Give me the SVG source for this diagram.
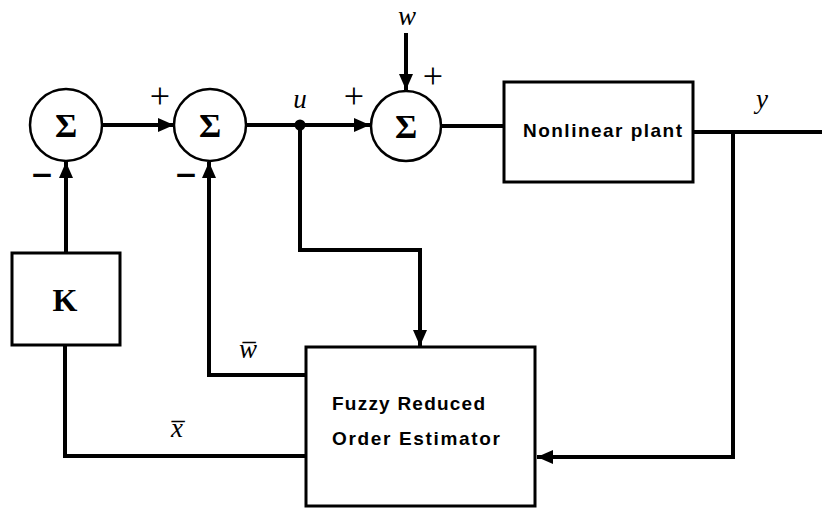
<svg xmlns="http://www.w3.org/2000/svg" width="822" height="508" viewBox="0 0 822 508">
<style>
.blk{fill:#fff;stroke:#000;stroke-width:3}
.sum{fill:#fff;stroke:#000;stroke-width:2.5}
.wire{fill:none;stroke:#000;stroke-width:4;stroke-linejoin:miter}
text{fill:#000}
.sig{font-family:"Liberation Serif","DejaVu Serif",serif;font-size:34px;font-weight:bold;text-anchor:middle}
.var{font-family:"Liberation Serif","DejaVu Serif",serif;font-size:27px;font-style:italic;text-anchor:middle}
.pls{font-family:"Liberation Serif","DejaVu Serif",serif;font-size:36px;text-anchor:middle}
.mns{font-family:"DejaVu Sans","Liberation Sans",sans-serif;font-size:28px;font-weight:bold;text-anchor:middle}
.lbl{font-family:"Liberation Sans",Arial,sans-serif;font-size:19px;font-weight:bold}
</style>
<defs>
<marker id="arr" markerUnits="userSpaceOnUse" markerWidth="16" markerHeight="14" viewBox="0 0 16 14" refX="16" refY="7" orient="auto">
<path d="M0,0 L16,7 L0,14 z" fill="#000"/>
</marker>
</defs>
<rect width="822" height="508" fill="#fff"/>
<g id="connectors">
<line class="wire" x1="102" y1="125" x2="174" y2="125" marker-end="url(#arr)"/>
<line class="wire" x1="246" y1="125" x2="370" y2="125" marker-end="url(#arr)"/>
<line class="wire" x1="406" y1="33" x2="406" y2="90" marker-end="url(#arr)"/>
<line class="wire" x1="441" y1="126" x2="504" y2="126"/>
<line class="wire" x1="693" y1="132" x2="822" y2="132"/>
<polyline class="wire" points="733,132 733,457 537,457" marker-end="url(#arr)"/>
<polyline class="wire" points="300,125 300,250 420,250 420,346" marker-end="url(#arr)"/>
<polyline class="wire" points="306,375 209,375 209,162" marker-end="url(#arr)"/>
<polyline class="wire" points="306,456 65,456 65,346"/>
<line class="wire" x1="66" y1="253" x2="66" y2="162" marker-end="url(#arr)"/>
<circle cx="300" cy="125" r="5.5" fill="#000"/>
<text class="var" x="300" y="108">u</text>
<text class="var" x="407" y="25">w</text>
<text class="var" x="762" y="108">y</text>
<text class="var" x="248" y="358">w&#x0305;</text>
<text class="var" x="177" y="437">x&#x0305;</text>
</g>
<g id="sum1">
<circle class="sum" cx="66" cy="125" r="36"/>
<text class="sig" x="66" y="137">Σ</text>
<text class="mns" x="42" y="184">−</text>
</g>
<g id="sum2">
<circle class="sum" cx="210" cy="125" r="36"/>
<text class="sig" x="210" y="137">Σ</text>
<text class="pls" x="160" y="108">+</text>
<text class="mns" x="186" y="184">−</text>
</g>
<g id="sum3">
<circle class="sum" cx="406" cy="126" r="35"/>
<text class="sig" x="406" y="138">Σ</text>
<text class="pls" x="354" y="108">+</text>
<text class="pls" x="433" y="88">+</text>
</g>
<g id="plant">
<rect class="blk" x="504" y="82" width="189" height="100"/>
<text class="lbl" x="523" y="137" textLength="159" lengthAdjust="spacing">Nonlinear plant</text>
</g>
<g id="gainK">
<rect class="blk" x="12" y="253" width="108" height="92"/>
<text x="65" y="311" text-anchor="middle" font-family="Liberation Serif,serif" font-size="32" font-weight="bold">K</text>
</g>
<g id="estimator">
<rect class="blk" x="306" y="347" width="229" height="159"/>
<text class="lbl" x="332" y="410" textLength="153" lengthAdjust="spacing">Fuzzy Reduced</text>
<text class="lbl" x="332" y="445" textLength="168" lengthAdjust="spacing">Order Estimator</text>
</g>
</svg>
